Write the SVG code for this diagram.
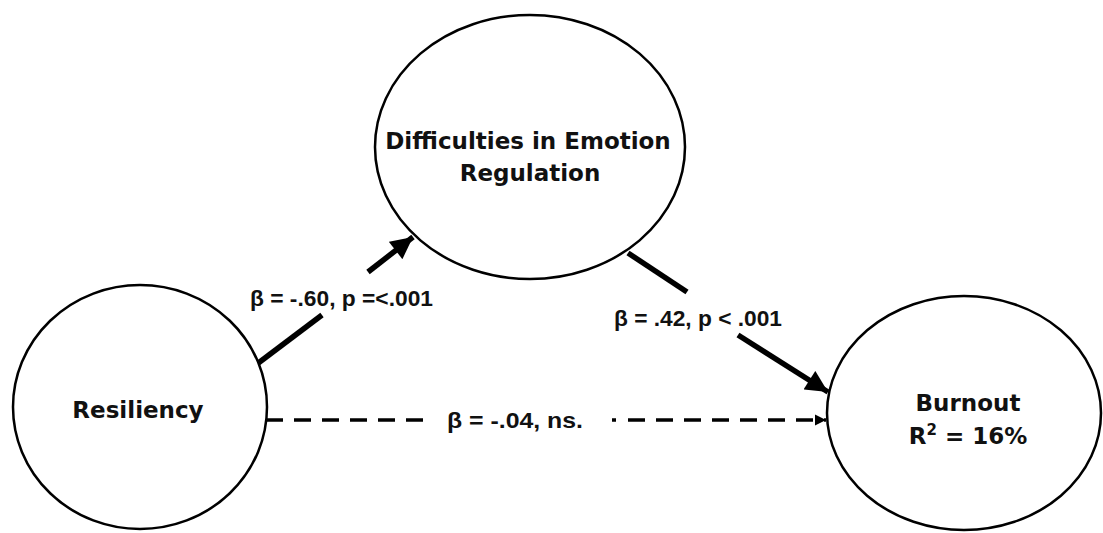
<svg xmlns="http://www.w3.org/2000/svg" width="1103" height="533" viewBox="0 0 1103 533">
<style>
.node{fill:#fff;stroke:#000;stroke-width:2.5}
.nl{font-family:"DejaVu Sans",Verdana,sans-serif;font-weight:bold;font-size:23px;fill:#111;text-anchor:middle}
.el{font-family:"Liberation Sans",Arial,sans-serif;font-weight:bold;font-size:22px;fill:#111}
.solid{stroke:#000;stroke-width:5.5;fill:none}
.dash{stroke:#000;stroke-width:3.5;fill:none;stroke-dasharray:17 11}
</style>
<defs>
<marker id="ah" viewBox="0 0 10 10" refX="10" refY="5" markerWidth="4.2" markerHeight="4" markerUnits="strokeWidth" orient="auto">
<path d="M0,0 L10,5 L0,10 z" fill="#000"/>
</marker>
<marker id="ahs" viewBox="0 0 10 10" refX="10" refY="5" markerWidth="3.2" markerHeight="3.2" markerUnits="strokeWidth" orient="auto">
<path d="M0,0 L10,5 L0,10 z" fill="#000"/>
</marker>
</defs>
<g id="connectors">
<path class="solid" d="M257,364 L322,315"/>
<path class="solid" d="M368,272 L413,237" marker-end="url(#ah)"/>
<path class="solid" d="M628,253 L687,292"/>
<path class="solid" d="M738,335 L828,392" marker-end="url(#ah)"/>
<path class="dash" d="M266,420 L434,420"/>
<path class="dash" d="M612,420 L616,420 M628,420 L826,420" marker-end="url(#ahs)"/>
<text class="el" x="250" y="306" textLength="183" lengthAdjust="spacingAndGlyphs">β = -.60, p =&lt;.001</text>
<text class="el" x="614" y="326" textLength="168" lengthAdjust="spacingAndGlyphs">β = .42, p &lt; .001</text>
<text class="el" x="447" y="428" textLength="136" lengthAdjust="spacingAndGlyphs">β = -.04, ns.</text>
</g>
<g id="node-difficulties">
<ellipse class="node" cx="530" cy="147" rx="155" ry="132"/>
<text class="nl" x="528" y="149">Difficulties in Emotion</text>
<text class="nl" x="530" y="181">Regulation</text>
</g>
<g id="node-resiliency">
<ellipse class="node" cx="140" cy="407" rx="127" ry="122"/>
<text class="nl" x="138" y="418">Resiliency</text>
</g>
<g id="node-burnout">
<ellipse class="node" cx="964" cy="413" rx="137" ry="117"/>
<text class="nl" x="968" y="411">Burnout</text>
<text class="nl" x="968" y="444">R<tspan font-size="15" dy="-9">2</tspan><tspan dy="9"> = 16%</tspan></text>
</g>
</svg>
